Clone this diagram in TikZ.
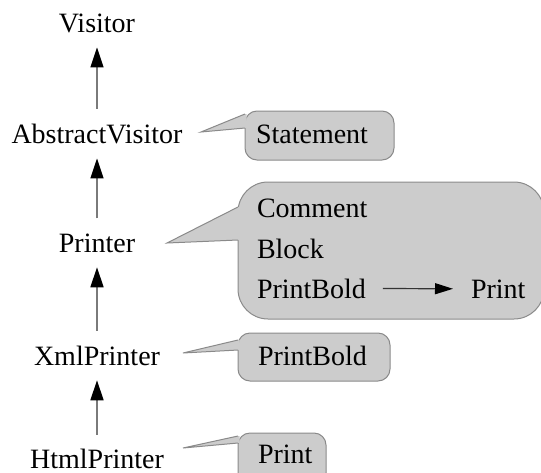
\documentclass[tikz,border=0pt]{standalone}
\usepackage{fontspec}
\setmainfont{Liberation Serif}
\usetikzlibrary{arrows.meta,calc}
\definecolor{bubblefill}{HTML}{CCCCCC}
\definecolor{bubbleline}{HTML}{8A8A8A}
\definecolor{linkgray}{HTML}{7A7A7A}
\begin{document}
\begin{tikzpicture}[x=1pt,y=-1pt,
  every node/.style={inner sep=0pt,outer sep=0pt,font=\fontsize{28pt}{32pt}\selectfont},
  cls/.style={anchor=base},
  txt/.style={anchor=base west},
  inherit/.style={draw=linkgray,line width=1.5pt,
    -{Triangle[length=20pt,width=13pt,color=black]},shorten >=15pt,shorten <=15pt},
  bubblebox/.style={draw=bubbleline,fill=bubblefill,line width=1pt,rounded corners=12pt},
  wedgefill/.style={fill=bubblefill},
  wedgeline/.style={draw=bubbleline,line width=1pt},
  callarrow/.style={draw=black!80,line width=1.2pt,-{Triangle[length=18pt,width=11pt,color=black]}}
]
\useasboundingbox (0,0) rectangle (541,472);
\clip (0,0) rectangle (541,472);

% class hierarchy
\node[cls] (v)  at (97,32)  {Visitor};
\node[cls] (av) at (97,143) {AbstractVisitor};
\node[cls] (p)  at (97,252) {Printer};
\node[cls] (xp) at (97,365) {XmlPrinter};
\node[cls] (hp) at (97,468) {HtmlPrinter};

\draw[inherit] (av.north) -- (v.south);
\draw[inherit] (p.north) -- (av.south);
\draw[inherit] (xp.north) -- (p.south);
\draw[inherit,shorten <=14pt] (hp.north) -- (xp.south);

% callout: Statement
\path[bubblebox] (245,111) rectangle (394,160);
\coordinate (avtip) at (201,132);
\fill[wedgefill] (avtip) -- (245,114) -- (246.5,114) -- (246.5,128) -- (245,128) -- cycle;
\draw[wedgeline] (245,114) -- (avtip) -- (245,128);
\node[txt] (st) at (256,143) {Statement};

% callout: Printer
\path[bubblebox,rounded corners=30pt] (238,182) rectangle (544,319);
\coordinate (ptip) at (167,243);
\fill[wedgefill] (ptip) -- (238,207) -- (239.5,207) -- (239.5,240) -- (238,240) -- cycle;
\draw[wedgeline] (238,207) -- (ptip) -- (238,240);
\node[txt] (cm) at (257,217) {Comment};
\node[txt] (bl) at (257,258) {Block};
\node[txt] (pb) at (257,298) {PrintBold};
\node[txt] (pr) at (471,298) {Print};
\draw[callarrow,shorten <=17pt,shorten >=18pt] (pb.east) -- (pr.west);

% callout: XmlPrinter
\path[bubblebox] (238,333) rectangle (390,381);
\coordinate (xtip) at (183,353);
\fill[wedgefill] (xtip) -- (238,340) -- (239.5,340) -- (239.5,350) -- (238,350) -- cycle;
\draw[wedgeline] (238,340) -- (xtip) -- (238,350);
\node[txt] (xpb) at (258,365) {PrintBold};

% callout: HtmlPrinter
\path[bubblebox] (238,433) rectangle (326,485);
\coordinate (htip) at (183,448);
\fill[wedgefill] (htip) -- (238,436) -- (239.5,436) -- (239.5,443) -- (238,443) -- cycle;
\draw[wedgeline] (238,436) -- (htip) -- (238,443);
\node[txt] (hpr) at (258,463) {Print};
\end{tikzpicture}
\end{document}
